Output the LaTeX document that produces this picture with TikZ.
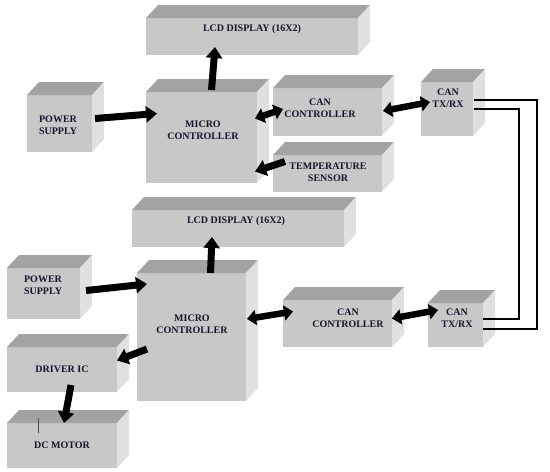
\documentclass[tikz,border=0pt]{standalone}
\usepackage{fontspec}
\setmainfont{Liberation Serif}
\definecolor{boxfront}{RGB}{200, 200, 200}
\definecolor{boxtop}{RGB}{163, 163, 163}
\definecolor{boxside}{RGB}{224, 224, 224}
\definecolor{labeltext}{RGB}{20, 20, 40}
\usepackage{tikz}
\usetikzlibrary{arrows.meta, calc}

% 3D block: name, left, top, right, bottom (pixel units, y down)
\newcommand{\cubedx}{12}
\newcommand{\cubedy}{13}
\newcommand{\blockcube}[5]{%
  \node[frontface, anchor=north west, minimum width={#4pt-#2pt}, minimum height={#5pt-#3pt}] (#1) at (#2,#3) {};
  \fill[boxtop] (#1.north west) -- ++(\cubedx,-\cubedy) -- ($(#1.north east)+(\cubedx,-\cubedy)$) -- (#1.north east) -- cycle;
  \fill[boxside] (#1.north east) -- ++(\cubedx,-\cubedy) -- ($(#1.south east)+(\cubedx,-\cubedy)$) -- (#1.south east) -- cycle;
}

\begin{document}
\begin{tikzpicture}[x=1pt, y=-1pt,
    frontface/.style={fill=boxfront, inner sep=0pt, outer sep=0pt},
    boxlabel/.style={font=\fontsize{10}{12}\selectfont\bfseries, text=labeltext, align=center, inner sep=0pt},
    blockarrow/.style={line width=7pt, -{Triangle[width=16pt,length=11pt]}},
    twinarrow/.style={line width=6.5pt, {Triangle[width=15pt,length=9pt]}-{Triangle[width=15pt,length=9pt]}},
    wire/.style={line width=2.2pt}]
    \useasboundingbox (0,0) rectangle (550,472);

    % === Transmitter node (top) ===
    \blockcube{lcdA}{146}{18}{358}{55}
    \blockcube{powerA}{27}{95}{92}{152}
    \blockcube{mcuA}{146}{92}{257}{183}
    \blockcube{canA}{273}{88}{382}{136}
    \blockcube{temp}{273}{155}{382}{192}
    \blockcube{txA}{421}{82}{473}{136}
    % Labels
    \node[boxlabel] (lcdAtext) at (252,29) {LCD DISPLAY (16X2)};
    \node[boxlabel] (powerAtext) at (58,125) {POWER\\SUPPLY};
    \node[boxlabel] (mcuAtext) at (203,130) {MICRO\\CONTROLLER};
    \node[boxlabel] (canAtext) at (320,108) {CAN\\CONTROLLER};
    \node[boxlabel] (temptext) at (328,172) {TEMPERATURE\\SENSOR};
    \node[boxlabel] (txAtext) at (448,98) {CAN\\TX/RX};

    % === Receiver node (bottom) ===
    \blockcube{lcdB}{132}{210}{344}{247}
    \blockcube{powerB}{7}{268}{80}{319}
    \blockcube{mcuB}{137}{273}{246}{401}
    \blockcube{canB}{283}{300}{392}{347}
    \blockcube{txB}{428}{303}{483}{347}
    \blockcube{driver}{7}{347}{117}{392}
    \blockcube{motor}{7}{423}{117}{468}
    % Labels
    \node[boxlabel] (lcdBtext) at (236,221) {LCD DISPLAY (16X2)};
    \node[boxlabel] (powerBtext) at (43,285) {POWER\\SUPPLY};
    \node[boxlabel] (mcuBtext) at (192,324) {MICRO\\CONTROLLER};
    \node[boxlabel] (canBtext) at (348,318) {CAN\\CONTROLLER};
    \node[boxlabel] (txBtext) at (457,318) {CAN\\TX/RX};
    \node[boxlabel] (drivertext) at (62,369) {DRIVER IC};
    \node[boxlabel] (motortext) at (62,445) {DC MOTOR};
    % Mark on motor
    \draw[black!70, line width=1pt] ($(motor.north west)+(31,-5)$) -- ++(0,15);

    % === Block arrows ===
    \draw[blockarrow] ($(mcuA.north)+(10,-2)$) -- ($(lcdA.south)+(-37,-8)$);
    \draw[blockarrow] ($(powerA.east)+(3,-5)$) -- ($(mcuA.west)+(11,-24)$);
    \draw[twinarrow] ($(mcuA.east)+(-2,-19)$) -- ($(canA.west)+(10,-3)$);
    \draw[twinarrow] ($(canA.east)+(1,-1)$) -- ($(txA.west)+(9,-7)$);
    \draw[blockarrow] ($(temp.west)+(12,-12)$) -- ($(mcuA.east)+(-2,34)$);
    \draw[blockarrow] ($(mcuB.north)+(19,0)$) -- ($(lcdB.south)+(-26,-10)$);
    \draw[blockarrow] ($(powerB.east)+(6,-3)$) -- ($(mcuB.west)+(10,-53)$);
    \draw[twinarrow] ($(mcuB.east)+(1,-18)$) -- ($(canB.west)+(10,-12)$);
    \draw[twinarrow] ($(canB.east)+(0,-5)$) -- ($(txB.west)+(10,-15)$);
    \draw[blockarrow] ($(mcuB.west)+(10,12)$) -- ($(driver.east)+(0,-9)$);
    \draw[blockarrow] ($(driver.south)+(9,-7)$) -- ($(motor.north)+(2,0)$);

    % === CAN bus wires ===
    \coordinate (busouter) at (537,0);
    \coordinate (businner) at (519,0);
    \coordinate (txAhi) at ($(txA.east)+(1,-9)$);
    \coordinate (txAlo) at ($(txA.east)+(1,0)$);
    \coordinate (txBhi) at ($(txB.east)+(0,-6)$);
    \coordinate (txBlo) at ($(txB.east)+(0,4)$);
    \draw[wire] (txAhi) -| (busouter |- txBlo) -- (txBlo);
    \draw[wire] (txAlo) -| (businner |- txBhi) -- (txBhi);
  \end{tikzpicture}
\end{document}
